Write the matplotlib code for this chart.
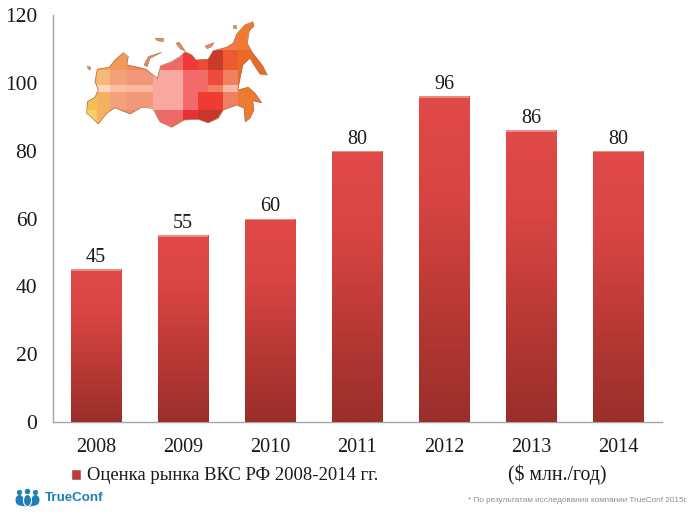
import matplotlib
matplotlib.use("Agg")
import matplotlib.pyplot as plt
import numpy as np
from matplotlib.colors import LinearSegmentedColormap
from matplotlib.patches import Polygon, Rectangle, Circle, Ellipse

years = ["2008", "2009", "2010", "2011", "2012", "2013", "2014"]
market = [45, 55, 60, 80, 96, 86, 80]
y_ticks = [0, 20, 40, 60, 80, 100, 120]
legend_text = "Оценка рынка ВКС РФ 2008-2014 гг."
unit_text = "($ млн./год)"
note_text = "* По результатам исследования компании TrueConf 2015г."

# map outline and tile colours, in pixels of the 3x crop
map_outline = [(50, 310), (52, 275), (75, 262), (85, 240), (75, 215), (82, 178), (118, 172), (135, 150),
               (160, 128), (175, 140), (170, 165), (205, 172), (228, 178), (250, 195), (262, 205),
               (272, 168), (305, 155), (330, 140), (345, 125), (365, 135), (378, 150), (415, 148),
               (430, 122), (470, 112), (490, 100), (500, 72), (525, 45), (548, 35), (552, 48), (538, 62),
               (532, 100), (545, 125), (560, 145), (578, 168), (592, 195), (570, 192), (552, 165), (540, 145),
               (518, 165), (512, 195), (503, 240), (535, 232), (555, 250), (575, 278), (548, 272),
               (552, 300), (540, 325), (526, 335), (522, 295), (500, 285), (460, 300), (445, 325),
               (415, 338), (385, 328), (342, 330), (305, 352), (270, 335), (248, 295), (215, 292),
               (180, 312), (135, 293), (110, 310), (85, 342), (65, 322)]
map_x = [50, 80, 120, 170, 250, 340, 385, 415, 460, 505, 592]
map_y = [30, 120, 180, 225, 245, 300, 355]
map_tiles = [
    ["#f5a850", "#f5a850", "#f29a5c", "#f08a5c", "#f08a5c", "#f0503c", "#f0503c", "#f08a5c", "#f07a4c", "#f07a30"],
    ["#f5a850", "#f5a850", "#f29a5c", "#f08a5c", "#f06a64", "#ee3a38", "#ee4a3c", "#c83c28", "#ee5a30", "#ea6a28"],
    ["#f5b050", "#f6b878", "#f4a078", "#f29878", "#f9a8a0", "#f26a6c", "#f26a64", "#ee4a3c", "#f08060", "#ea6a28"],
    ["#f8d0a0", "#fbd8b8", "#f8c0a0", "#f8b8a0", "#f9a8a0", "#f26a6c", "#f26a64", "#f08060", "#f8b8a0", "#ea7a30"],
    ["#f3c050", "#f5b060", "#f4a078", "#f29878", "#f9a8a0", "#f26a6c", "#ee3c30", "#ee3c30", "#f08060", "#ee7a30"],
    ["#f3d060", "#f5b060", "#f09060", "#ee8a70", "#ee6a68", "#e83038", "#c8362c", "#c8362c", "#f08060", "#ee7a30"],
]
map_islands = [
    [(222, 165), (235, 140), (275, 127), (240, 145), (232, 170)],
    [(255, 85), (280, 85), (280, 95), (262, 92)],
    [(318, 100), (328, 97), (345, 122), (332, 118)],
    [(405, 108), (432, 98), (425, 110), (412, 116)],
    [(490, 45), (497, 45), (497, 55), (490, 55)],
    [(52, 168), (62, 172), (60, 180), (54, 176)],
]

bar_cmap = LinearSegmentedColormap.from_list(
    "bar", [(0, "#e04a48"), (0.3, "#d84543"), (0.7, "#b43733"), (1, "#9a2f2b")])
plt.rcParams.update({"font.family": ["Liberation Serif", "DejaVu Serif"], "font.size": 14})

fig = plt.figure(figsize=(7, 5.18), dpi=100, facecolor="white")
ax = fig.add_axes([52.5 / 700, (518 - 422) / 518, 609 / 700, 407 / 518])

x = np.arange(len(years))
bars = ax.bar(x, market, width=0.575, color="#c43c3a", edgecolor="#b05048", linewidth=0.7, zorder=3)
grad = np.linspace(0, 1, 256).reshape(-1, 1)
for b, v in zip(bars, market):
    # gradient runs top to bottom inside each bar
    im = ax.imshow(grad, cmap=bar_cmap, aspect="auto", zorder=3.5, origin="upper",
                   extent=[b.get_x(), b.get_x() + b.get_width(), 0, v])
    im.set_clip_path(b)
    # light strip along the top edge
    ax.add_patch(Rectangle((b.get_x(), v - 0.45), b.get_width(), 0.45, color="#ec8a84", lw=0, zorder=4))

for xi, v in zip(x, market):
    ax.text(xi, v + 0.6, str(v), ha="center", va="bottom", fontsize=14.5, color="#1a1a1a")

ax.set_xlim(-0.5, len(years) - 0.5)
ax.set_ylim(0, 120)
ax.set_xticks(x)
ax.set_xticklabels(years, fontsize=14.5, color="#1a1a1a")
ax.set_yticks(y_ticks)
ax.tick_params(axis="y", length=0, pad=11, labelsize=15.5, labelcolor="#1a1a1a")
ax.tick_params(axis="x", length=0, pad=11.5)
for spine in ["top", "right"]:
    ax.spines[spine].set_visible(False)
for spine in ["left", "bottom"]:
    ax.spines[spine].set_color("#a6a6a6")
    ax.spines[spine].set_linewidth(1.0)

# overlay in image pixels for the map, legend row and logo
ov = fig.add_axes([0, 0, 1, 1], facecolor="none")
ov.set_xlim(0, 700)
ov.set_ylim(518, 0)
ov.axis("off")

px = lambda v: 70 + np.array(v) / 3
py = lambda v: 10 + np.array(v) / 3
tile_rgb = np.array([[matplotlib.colors.to_rgb(c) for c in row] for row in map_tiles])
mesh = ov.pcolormesh(px(map_x), py(map_y), tile_rgb, shading="flat", zorder=5)
outline = Polygon(np.c_[px([p[0] for p in map_outline]), py([p[1] for p in map_outline])],
                  closed=True, fc="none", ec="#b06a40", lw=0.5, zorder=6)
ov.add_patch(outline)
mesh.set_clip_path(outline)
for isl in map_islands:
    ov.add_patch(Polygon(np.c_[px([p[0] for p in isl]), py([p[1] for p in isl])],
                         closed=True, fc="#e88a60", ec="#a8704c", lw=0.4, zorder=6))

ov.add_patch(Rectangle((72, 470), 8, 9, fc="#c23a38", ec="#a8403c", lw=0.4))
ov.text(87, 475, legend_text, fontsize=13.4, va="center", ha="left", color="#1a1a1a")
ov.text(508, 475, unit_text, fontsize=14.2, va="center", ha="left", color="#1a1a1a")
ov.text(688, 500, note_text, fontsize=5.9, va="center", ha="right", color="#8c8c8c",
        family=["Liberation Sans", "DejaVu Sans"])

# TrueConf logo: two side figures and one front figure
logo_blue = "#1f7fb6"
for cx in [19.5, 35.5]:
    ov.add_patch(Circle((cx, 492.5), 2.6, fc=logo_blue, ec="none"))
    ov.add_patch(Ellipse((cx, 500), 8, 10, fc=logo_blue, ec="none"))
ov.add_patch(Ellipse((27.5, 503), 22, 7, fc=logo_blue, ec="none"))
ov.add_patch(Circle((27.5, 491.5), 3.2, fc=logo_blue, ec="white", lw=0.6))
ov.add_patch(Ellipse((27.5, 500.5), 8, 12, fc=logo_blue, ec="white", lw=0.8))
ov.text(45, 498, "TrueConf", fontsize=9.6, fontweight="bold", va="center", ha="left", color=logo_blue,
        family=["Liberation Sans", "DejaVu Sans"])

fig.savefig("out.png", dpi=100, facecolor="white")
